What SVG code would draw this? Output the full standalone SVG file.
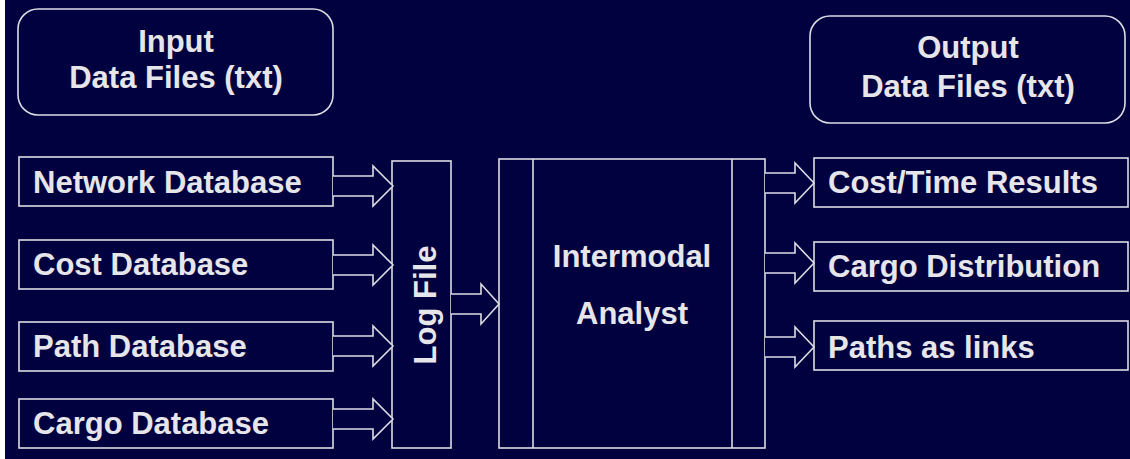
<svg xmlns="http://www.w3.org/2000/svg" width="1130" height="459" viewBox="0 0 1130 459">
<style>
.bx{fill:#020140;stroke:#dcdce4;stroke-width:1.6}
.ar{fill:#020140;stroke:#dcdce4;stroke-width:1.6;stroke-linejoin:miter}
.t{font-family:"Liberation Sans",Arial,sans-serif;font-weight:bold;font-size:31px;fill:#e6e6ea}
.c{text-anchor:middle}
</style>
<rect x="0" y="0" width="1130" height="459" fill="#020140"/>
<rect x="0" y="0" width="5" height="459" fill="#ffffff"/>
<g id="input-title">
<rect class="bx" x="18" y="9" width="315" height="106" rx="20"/>
<text class="t c" x="176" y="52">Input</text>
<text class="t c" x="176" y="88">Data Files (txt)</text>
</g>
<g id="output-title">
<rect class="bx" x="810" y="16" width="315" height="107" rx="20"/>
<text class="t c" x="968" y="58">Output</text>
<text class="t c" x="968" y="97">Data Files (txt)</text>
</g>
<g id="network-db">
<rect class="bx" x="19" y="157" width="314" height="49"/>
<text class="t" x="33" y="193">Network Database</text>
</g>
<g id="cost-db">
<rect class="bx" x="19" y="240" width="314" height="49"/>
<text class="t" x="33" y="275">Cost Database</text>
</g>
<g id="path-db">
<rect class="bx" x="19" y="322" width="314" height="49"/>
<text class="t" x="33" y="357">Path Database</text>
</g>
<g id="cargo-db">
<rect class="bx" x="19" y="399" width="314" height="49"/>
<text class="t" x="33" y="434">Cargo Database</text>
</g>
<g id="log-file">
<rect class="bx" x="392" y="161" width="59" height="287"/>
<text class="t c" transform="translate(436,305) rotate(-90)">Log File</text>
</g>
<g id="intermodal-analyst">
<rect class="bx" x="499" y="159" width="266" height="289"/>
<line class="bx" x1="533" y1="159" x2="533" y2="448"/>
<line class="bx" x1="732" y1="159" x2="732" y2="448"/>
<text class="t c" x="632" y="267">Intermodal</text>
<text class="t c" x="632" y="324">Analyst</text>
</g>
<g id="cost-time">
<rect class="bx" x="814" y="158" width="314" height="49"/>
<text class="t" x="828" y="193">Cost/Time Results</text>
</g>
<g id="cargo-dist">
<rect class="bx" x="814" y="242" width="314" height="49"/>
<text class="t" x="828" y="277">Cargo Distribution</text>
</g>
<g id="paths-links">
<rect class="bx" x="814" y="321" width="314" height="49"/>
<text class="t" x="828" y="358">Paths as links</text>
</g>
<g id="connectors">
<polyline class="ar" points="333,176 373,176 373,166 393,186 373,206 373,196 333,196"/>
<polyline class="ar" points="333,255 373,255 373,245 393,265 373,285 373,275 333,275"/>
<polyline class="ar" points="333,336 373,336 373,326 393,346 373,366 373,356 333,356"/>
<polyline class="ar" points="333,409 373,409 373,399 393,419 373,439 373,429 333,429"/>
<polyline class="ar" points="451,294 481,294 481,284 499,304 481,324 481,314 451,314"/>
<polyline class="ar" points="765,173 795,173 795,163 814,183 795,203 795,193 765,193"/>
<polyline class="ar" points="765,253 795,253 795,243 814,263 795,283 795,273 765,273"/>
<polyline class="ar" points="765,337 795,337 795,327 814,347 795,367 795,357 765,357"/>
</g>
</svg>
